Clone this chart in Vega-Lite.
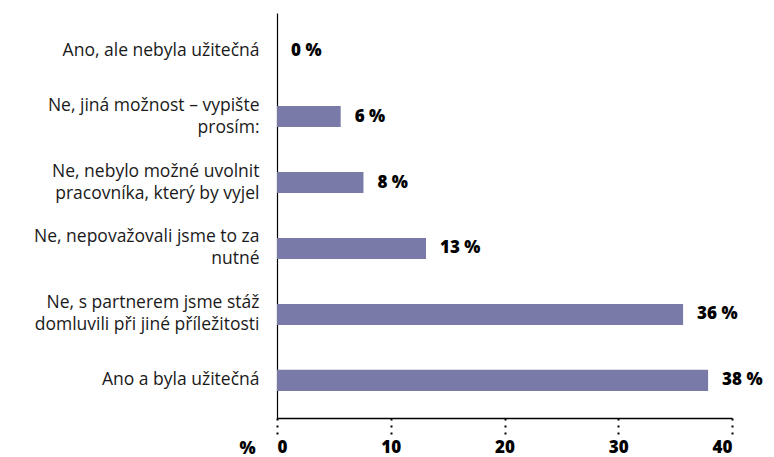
{
  "$schema": "https://vega.github.io/schema/vega-lite/v6.json",
  "autosize": "none",
  "width": 455,
  "height": 405,
  "padding": {"left": 277, "top": 13, "right": 42, "bottom": 39},
  "background": "white",
  "data": {
    "values": [
      {"answer": "Ano, ale nebyla užitečná", "value": 0, "label": "0 %"},
      {"answer": "Ne, jiná možnost – vypište|prosím:", "value": 5.6, "label": "6 %"},
      {"answer": "Ne, nebylo možné uvolnit|pracovníka, který by vyjel", "value": 7.6, "label": "8 %"},
      {"answer": "Ne, nepovažovali jsme to za|nutné", "value": 13.1, "label": "13 %"},
      {"answer": "Ne, s partnerem jsme stáž|domluvili při jiné příležitosti", "value": 35.7, "label": "36 %"},
      {"answer": "Ano a byla užitečná", "value": 37.9, "label": "38 %"}
    ]
  },
  "encoding": {
    "y": {
      "field": "answer",
      "type": "nominal",
      "sort": null,
      "scale": {"paddingInner": 0.68, "paddingOuter": 0.41},
      "axis": {
        "title": null,
        "ticks": false,
        "domainColor": "#000000",
        "domainWidth": 1.2,
        "labelExpr": "split(datum.label, '|')",
        "labelOffset": {"condition": {"test": "indexof(datum.label, '|') >= 0", "value": -11}, "value": 0},
        "labelFont": "Open Sans",
        "labelFontWeight": "normal",
        "labelFontSize": 17.5,
        "labelColor": "#1a1a1a",
        "labelPadding": 18,
        "labelLineHeight": 22,
        "labelLimit": 280
      }
    },
    "x": {
      "field": "value",
      "type": "quantitative",
      "scale": {"domain": [0, 40], "nice": false},
      "axis": {
        "values": [0, 10, 20, 30, 40],
        "grid": false,
        "domainColor": "#000000",
        "domainWidth": 1.5,
        "tickColor": "#000000",
        "tickSize": 17,
        "tickWidth": 2,
        "tickDash": [2, 5],
        "labelFont": "Open Sans",
        "labelFontWeight": 800,
        "labelFontSize": 17,
        "labelColor": "#000000",
        "labelPadding": 4,
        "title": "%",
        "titleFont": "Open Sans",
        "titleFontWeight": 800,
        "titleFontSize": 17,
        "titleColor": "#000000",
        "titleX": -30,
        "titleY": 30,
        "titleAlign": "center",
        "titleBaseline": "middle"
      }
    }
  },
  "layer": [
    {"mark": {"type": "bar", "color": "#7a7aa8"}},
    {
      "mark": {
        "type": "text",
        "align": "left",
        "baseline": "middle",
        "dx": 14,
        "font": "Open Sans",
        "fontWeight": 800,
        "fontSize": 17,
        "color": "#000000"
      },
      "encoding": {"text": {"field": "label"}}
    }
  ],
  "config": {"view": {"stroke": null}}
}
